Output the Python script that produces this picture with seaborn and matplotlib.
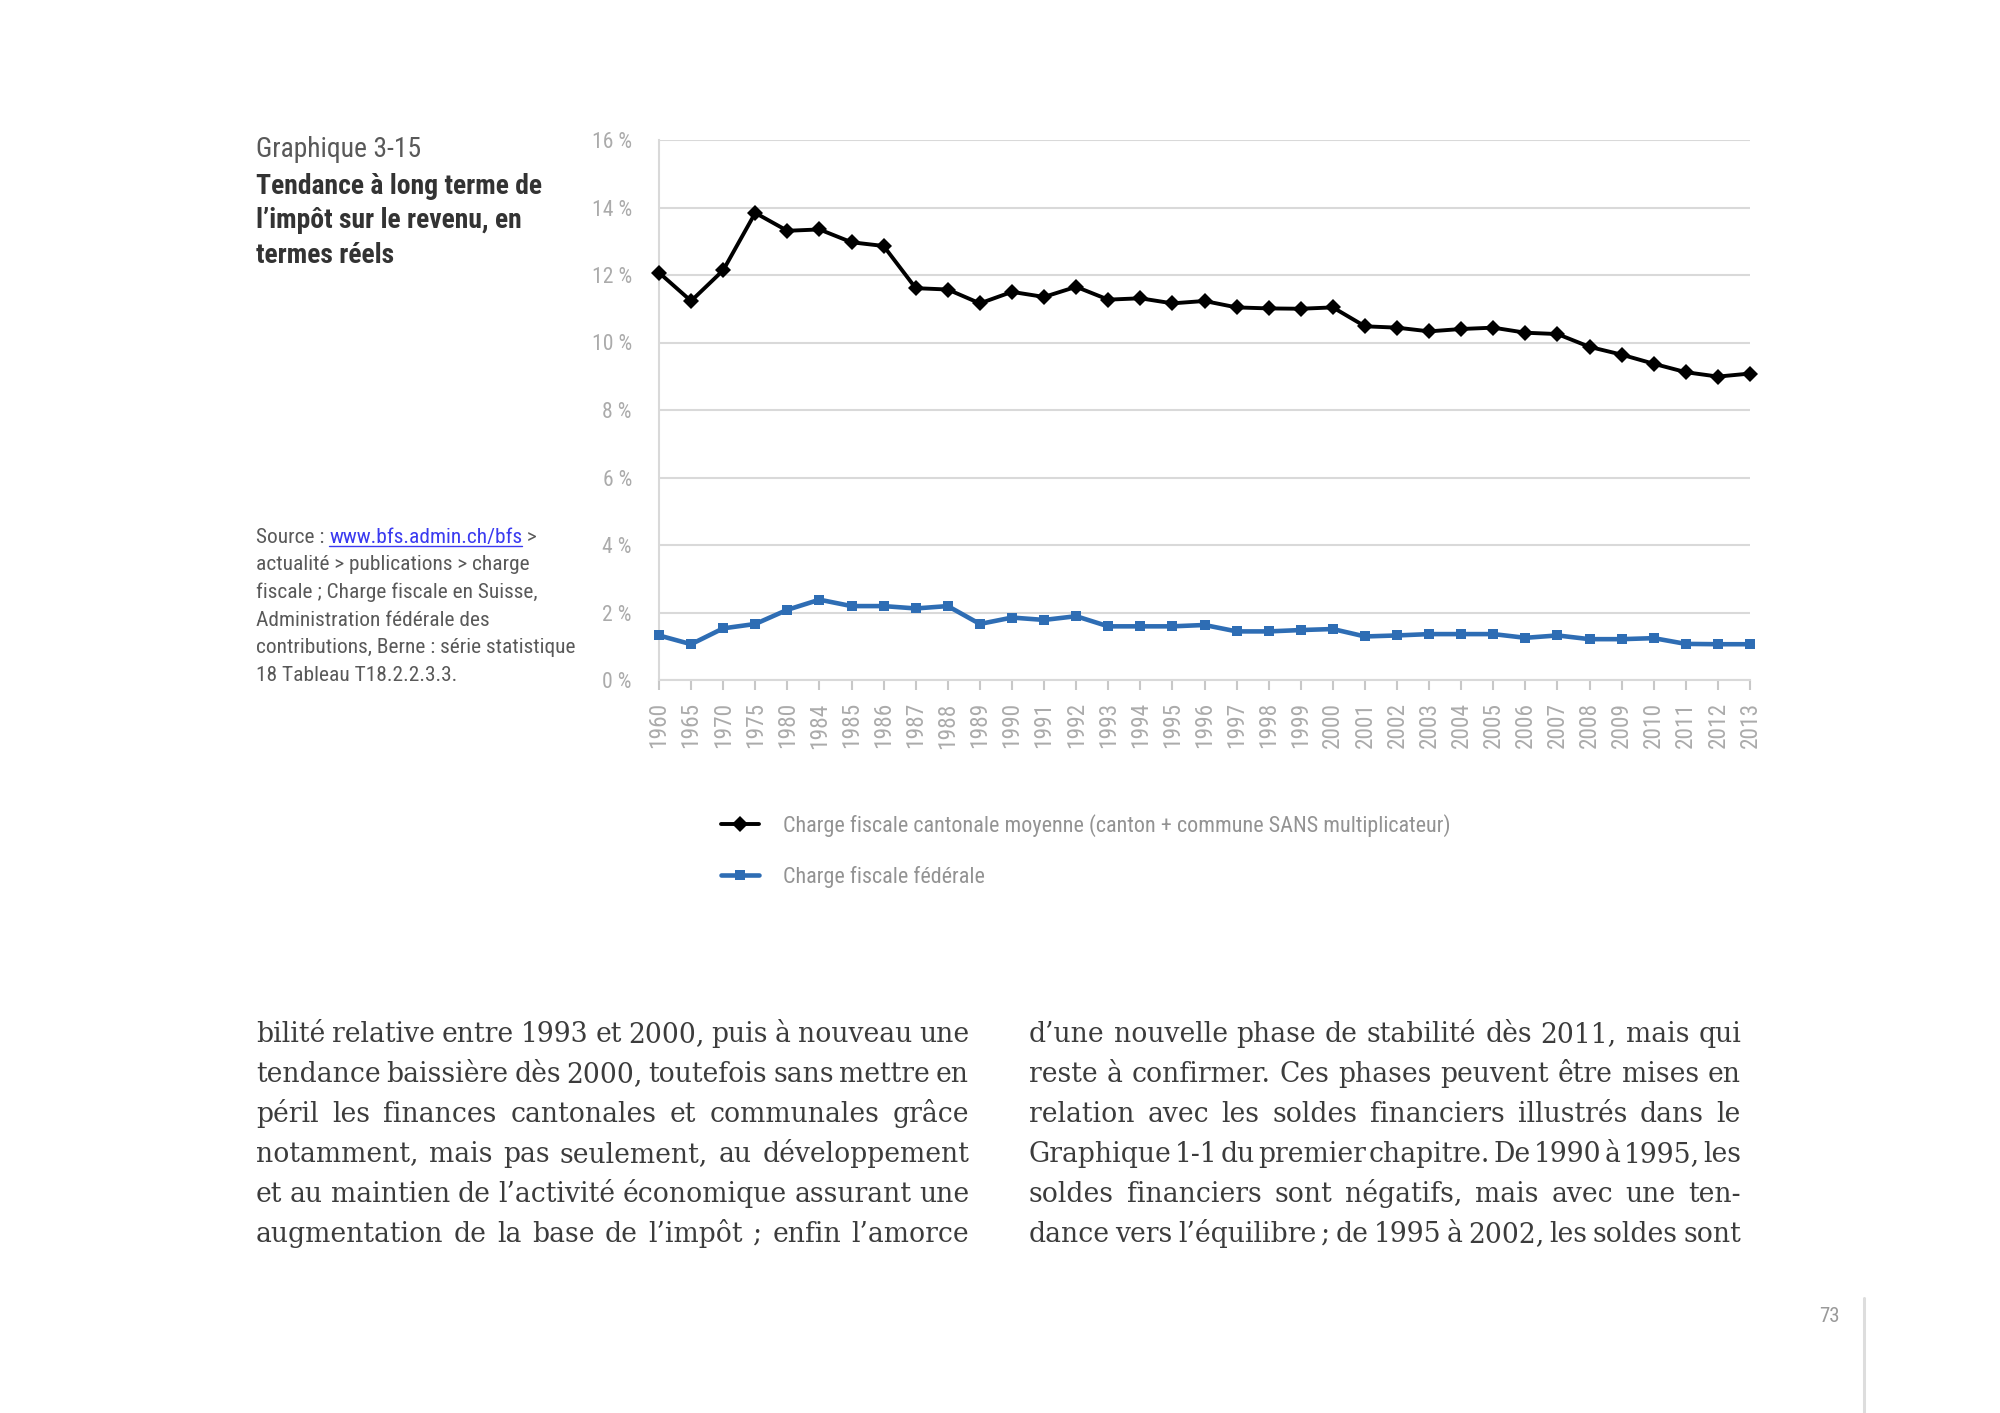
import matplotlib
matplotlib.use('Agg')
import matplotlib.pyplot as plt
from matplotlib.lines import Line2D
import pandas as pd
import seaborn as sns

W, H = 2000, 1413

# données (en %)
annees = ['1960', '1965', '1970', '1975', '1980', '1984', '1985', '1986', '1987',
          '1988', '1989', '1990', '1991', '1992', '1993', '1994', '1995', '1996',
          '1997', '1998', '1999', '2000', '2001', '2002', '2003', '2004', '2005',
          '2006', '2007', '2008', '2009', '2010', '2011', '2012', '2013']
cantonal = [12.07, 11.23, 12.14, 13.84, 13.31, 13.35, 12.97, 12.86, 11.61,
            11.57, 11.16, 11.50, 11.35, 11.65, 11.27, 11.31, 11.16, 11.23,
            11.04, 11.01, 11.00, 11.04, 10.48, 10.44, 10.33, 10.40, 10.44,
            10.29, 10.25, 9.87, 9.64, 9.37, 9.12, 8.99, 9.08]
federal = [1.32, 1.06, 1.53, 1.66, 2.08, 2.38, 2.19, 2.19, 2.12,
           2.19, 1.66, 1.85, 1.78, 1.89, 1.59, 1.59, 1.59, 1.63,
           1.44, 1.44, 1.48, 1.51, 1.29, 1.32, 1.36, 1.36, 1.36,
           1.25, 1.32, 1.21, 1.21, 1.24, 1.07, 1.06, 1.06]
noms = ['Charge fiscale cantonale moyenne (canton + commune SANS multiplicateur)',
        'Charge fiscale fédérale']
couleurs = ['#000000', '#2e6db4']
graduations = [0, 2, 4, 6, 8, 10, 12, 14, 16]

titre_num = 'Graphique 3-15'
titre = ['Tendance à long terme de', 'l’impôt sur le revenu, en', 'termes réels']
source_debut = 'Source : '
source_lien = 'www.bfs.admin.ch/bfs'
source_fin = ' >'
source = ['actualité > publications > charge',
          'fiscale ; Charge fiscale en Suisse,',
          'Administration fédérale des',
          'contributions, Berne : série statistique',
          '18 Tableau T18.2.2.3.3.']
texte_gauche = ['bilité relative entre 1993 et 2000, puis à nouveau une',
                'tendance baissière dès 2000, toutefois sans mettre en',
                'péril les finances cantonales et communales grâce',
                'notamment, mais pas seulement, au développement',
                'et au maintien de l’activité économique assurant une',
                'augmentation de la base de l’impôt ; enfin l’amorce']
texte_droite = ['d’une nouvelle phase de stabilité dès 2011, mais qui',
                'reste à confirmer. Ces phases peuvent être mises en',
                'relation avec les soldes financiers illustrés dans le',
                'Graphique 1-1 du premier chapitre. De 1990 à 1995, les',
                'soldes financiers sont négatifs, mais avec une ten-',
                'dance vers l’équilibre ; de 1995 à 2002, les soldes sont']
page = '73'

sns.set_theme(style='white')
plt.rcParams['font.family'] = ['Roboto Condensed', 'Liberation Sans Narrow', 'Roboto', 'DejaVu Sans']

fig = plt.figure(figsize=(W / 100, H / 100), dpi=100)
rend = fig.canvas.get_renderer()


def fx(x):
    return x / W


def fy(y):
    return 1 - y / H


def largeur(s, size, **kw):
    t = fig.text(0, 0, s, fontsize=size, **kw)
    w = t.get_window_extent(rend).width
    t.remove()
    return w


def ajuste(s, cible, **kw):
    return 20 * cible / largeur(s, 20, **kw)


def justifie(lignes, x0, x1, y0, dy, size, **kw):
    for i, ligne in enumerate(lignes):
        mots = ligne.split(' ')
        ts = [fig.text(0, fy(y0 + i * dy), m, fontsize=size, va='baseline', **kw) for m in mots]
        ws = [t.get_window_extent(rend).width for t in ts]
        gap = (x1 - x0 - sum(ws)) / (len(mots) - 1)
        x = x0
        for t, w in zip(ts, ws):
            t.set_x(fx(x))
            x += w + gap


# --- graphique ---
ax = fig.add_axes([fx(659), fy(680), (1750 - 659) / W, (680 - 140) / H])
styles = [('D', 8.5, 2.8), ('s', 7.5, 3.3)]
for nom, vals, c, (m, ms, lw) in zip(noms, [cantonal, federal], couleurs, styles):
    sns.lineplot(x=annees, y=vals, color=c, marker=m, markersize=ms, linewidth=lw,
                 markeredgewidth=0, label=nom, sort=False, ax=ax)
for l in ax.lines:
    l.set_clip_on(False)
    l.set_zorder(3)

ax.set_xlim(0, len(annees) - 1)
ax.set_ylim(0, 16)
ax.set_yticks(graduations, labels=[f'{g} %' for g in graduations])
ax.set_axisbelow(True)
ax.grid(axis='y', color='#d9d9d9', linewidth=1.5)
ax.grid(axis='x', visible=False)
for s in ['top', 'right']:
    ax.spines[s].set_visible(False)
for s in ['left', 'bottom']:
    ax.spines[s].set_color('#d9d9d9')
    ax.spines[s].set_linewidth(1.5)
    ax.spines[s].set_zorder(1)

ys = ajuste('16 %', 40)
xs = ajuste('1960', 46)
ax.tick_params(axis='y', left=False, pad=13.5, labelsize=ys, labelcolor='#ababab')
ax.tick_params(axis='x', bottom=True, length=7, width=1.5, color='#c8c8c8', pad=9,
               labelrotation=90, labelsize=xs, labelcolor='#ababab')
ax.set_xlabel('')
ax.set_ylabel('')

ls = ajuste(noms[0], 667)
fpx = ls * 100 / 72
h, lab = ax.get_legend_handles_labels()
leg = ax.legend(h, lab, loc='center left', bbox_to_anchor=(fx(721), fy(851)),
                bbox_transform=fig.transFigure, frameon=False, fontsize=ls,
                handlelength=38 / fpx, handletextpad=24 / fpx,
                labelspacing=(55 - 1.17 * fpx) / fpx, borderpad=0, borderaxespad=0)
for t in leg.get_texts():
    t.set_color('#939393')

# --- titre ---
ts = ajuste(titre[0], 286, fontweight='bold')
fig.text(fx(256), fy(157), titre_num, fontsize=ts, color='#595959', va='baseline')
for i, s in enumerate(titre):
    fig.text(fx(256), fy(194 + i * 34.5), s, fontsize=ts, fontweight='bold',
             color='#333333', va='baseline')

# --- source ---
ss = ajuste(source[3], 319)
x = 256
for morceau, c in [(source_debut, '#595959'), (source_lien, '#3a3af0'), (source_fin, '#595959')]:
    t = fig.text(fx(x), fy(543), morceau, fontsize=ss, color=c, va='baseline')
    w = t.get_window_extent(rend).width
    if morceau == source_lien:
        fig.add_artist(Line2D([fx(x), fx(x + w)], [fy(546), fy(546)], color=c, lw=1))
    x += w
for i, s in enumerate(source):
    fig.text(fx(256), fy(543 + (i + 1) * 27.5), s, fontsize=ss, color='#595959', va='baseline')

# --- texte courant ---
corps = {'family': 'DejaVu Serif', 'color': '#3c3c3c'}
nat = [largeur(s, 20, **corps) for s in texte_gauche + texte_droite]
bs = 20 * 713 / (sum(nat) / len(nat)) * 0.995
justifie(texte_gauche, 256, 969, 1042, 40, bs, **corps)
justifie(texte_droite, 1029, 1741, 1042, 40, bs, **corps)

# --- numéro de page ---
fig.text(fx(1829), fy(1316), page, fontsize=15, color='#9a9a9a', ha='center', va='center')
fig.add_artist(Line2D([fx(1864), fx(1864)], [fy(1298), 0], color='#dddddd', lw=2.2))

fig.savefig('out.png', dpi=100, facecolor='white')
